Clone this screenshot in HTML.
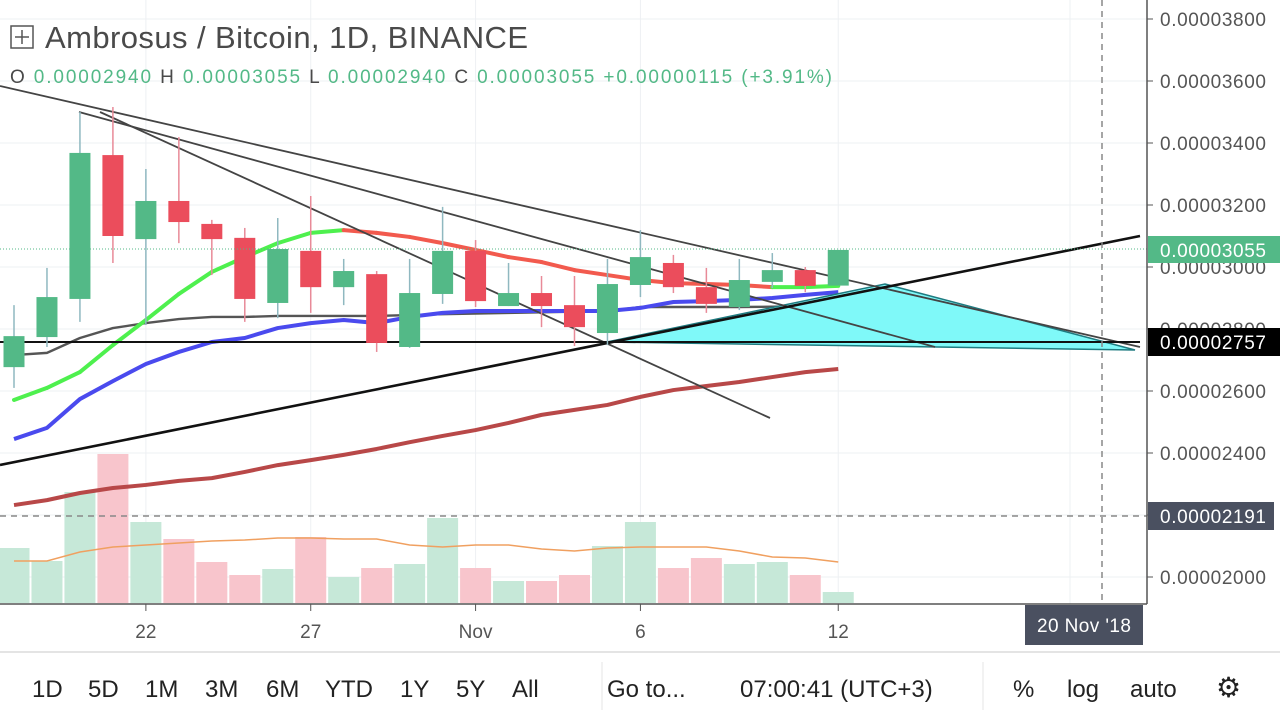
<!DOCTYPE html>
<html><head><meta charset="utf-8">
<style>
html,body{margin:0;padding:0;background:#fff;width:1280px;height:719px;overflow:hidden}
svg{display:block;font-family:"Liberation Sans",sans-serif}
</style></head>
<body>
<svg id="chart" width="1280" height="719" viewBox="0 0 1280 719" xmlns="http://www.w3.org/2000/svg">
<g id="grid"></g>
<g id="vol"></g>
<g id="mas"></g>
<g id="drawings">
  <polygon points="607,342 885,284 1135,350" fill="#7ff9f9" stroke="#1f7b80" stroke-width="1.5"/>
  <line x1="0" y1="86" x2="1140" y2="347" stroke="#444" stroke-width="1.8"/>
  <line x1="79" y1="112" x2="935" y2="347" stroke="#444" stroke-width="1.8"/>
  <line x1="100" y1="112" x2="770" y2="418" stroke="#444" stroke-width="1.8"/>
  <line x1="0" y1="342" x2="1140" y2="342" stroke="#111" stroke-width="2"/>
  <line x1="0" y1="465" x2="1140" y2="236" stroke="#111" stroke-width="2.6"/>
</g>
<g id="candles"></g>
<line x1="0" y1="249" x2="1147" y2="249" stroke="#53b987" stroke-width="1" stroke-dasharray="1,2"/>
<line x1="0" y1="516" x2="1147" y2="516" stroke="#888" stroke-width="1.5" stroke-dasharray="6,5"/>
<line x1="1102" y1="0" x2="1102" y2="604" stroke="#888" stroke-width="1.5" stroke-dasharray="6,5"/>
<line x1="1147" y1="0" x2="1147" y2="604" stroke="#555" stroke-width="1.5"/>
<line x1="0" y1="604" x2="1147" y2="604" stroke="#555" stroke-width="1.5"/>
<g id="yaxis"></g>
<g id="xaxis"></g>
<g><rect x="1148" y="236" width="132" height="27" fill="#53b987"/><text x="1160" y="257" font-size="19" fill="#fff" textLength="106">0.00003055</text></g>
<g><rect x="1148" y="328" width="132" height="28" fill="#000"/><text x="1160" y="349" font-size="19" fill="#fff" textLength="106">0.00002757</text></g>
<g><rect x="1148" y="502" width="126" height="28" fill="#4a5060"/><text x="1160" y="523" font-size="19" fill="#fff" textLength="106">0.00002191</text></g>
<g><rect x="1025" y="605" width="118" height="40" fill="#4a5060"/><text x="1037" y="632" font-size="19" fill="#fff" textLength="94">20 Nov '18</text></g>
<g>
  <rect x="11" y="26" width="22" height="22" fill="none" stroke="#555" stroke-width="1.5"/>
  <line x1="22" y1="30" x2="22" y2="44" stroke="#555" stroke-width="1.5"/><line x1="15" y1="37" x2="29" y2="37" stroke="#555" stroke-width="1.5"/>
  <text x="45" y="48" font-size="31" fill="#4a4a4a" textLength="483">Ambrosus / Bitcoin, 1D, BINANCE</text>
  <text x="10" y="83" font-size="19" fill="#4a4a4a" textLength="822"><tspan>O</tspan><tspan fill="#53b987"> 0.00002940 </tspan><tspan> H</tspan><tspan fill="#53b987"> 0.00003055 </tspan><tspan> L</tspan><tspan fill="#53b987"> 0.00002940 </tspan><tspan> C</tspan><tspan fill="#53b987"> 0.00003055 </tspan><tspan fill="#53b987">  +0.00000115 (+3.91%)</tspan></text>
</g>
<line x1="0" y1="652" x2="1280" y2="652" stroke="#e4e4e4" stroke-width="2"/>
<g id="toolbar" font-size="24" fill="#222">
  <text x="32" y="697">1D</text>
  <text x="88" y="697">5D</text>
  <text x="145" y="697">1M</text>
  <text x="205" y="697">3M</text>
  <text x="266" y="697">6M</text>
  <text x="325" y="697">YTD</text>
  <text x="400" y="697">1Y</text>
  <text x="456" y="697">5Y</text>
  <text x="512" y="697">All</text>
  <line x1="602" y1="662" x2="602" y2="710" stroke="#e6e6e6"/>
  <text x="607" y="697">Go to...</text>
  <text x="740" y="697">07:00:41 (UTC+3)</text>
  <line x1="983" y1="662" x2="983" y2="710" stroke="#e6e6e6"/>
  <text x="1013" y="697">%</text>
  <text x="1067" y="697">log</text>
  <text x="1130" y="697">auto</text>
  <text x="1216" y="697" font-size="28">⚙</text>
</g>
</svg>
<script>
const openP  = [2677,2774,2897,3361,3090,3213,3139,3094,2884,3052,2935,2977,2742,2913,3052,2874,2916,2877,2787,2942,3013,2935,2871,2952,2990,2940];
const highP  = [2877,2997,3500,3516,3316,3419,3152,3126,3158,3229,3026,2987,3026,3194,3087,3013,2971,2971,3026,3119,3039,2997,3026,3045,3000,3055];
const lowP   = [2610,2742,2823,3013,2813,3077,2974,2823,2835,2852,2877,2726,2739,2881,2871,2874,2806,2745,2748,2903,2916,2852,2861,2932,2919,2940];
const closeP = [2777,2903,3368,3100,3213,3145,3090,2897,3058,2935,2987,2755,2916,3052,2890,2916,2874,2806,2945,3032,2935,2881,2958,2990,2939,3055];
const emaFast = [2571,2610,2661,2748,2829,2913,2984,3032,3077,3110,3119,3110,3097,3077,3055,3032,3016,2990,2974,2958,2948,2945,2942,2935,2935,2939];
const maBlue  = [2445,2481,2574,2632,2687,2726,2758,2771,2803,2819,2829,2819,2839,2852,2858,2858,2858,2858,2858,2868,2887,2890,2894,2900,2910,2919];
const maGray  = [2716,2723,2771,2803,2819,2832,2839,2839,2842,2842,2842,2842,2845,2848,2850,2852,2854,2856,2858,2871,2871,2871,2871,2872,2873,2874];
const maSlow  = [2232,2248,2271,2287,2297,2310,2319,2339,2361,2377,2394,2413,2435,2455,2474,2497,2523,2539,2555,2581,2603,2616,2629,2645,2661,2671];
const volume  = [55,42,111,149,81,64,41,28,34,66,26,35,39,85,35,22,22,28,57,81,35,45,39,41,28,11];
const volMA   = [42,42,51,56,58,60,62,63,65,65,64,64,58,56,58,58,54,52,55,56,56,56,52,46,45,41];
const priceTicks = [3800,3600,3400,3200,3000,2800,2600,2400,2200,2000];
const priceTickLabels = ["0.00003800","0.00003600","0.00003400","0.00003200","0.00003000","0.00002800","0.00002600","0.00002400","0.00002200","0.00002000"];
const dateTickIdx = [4,9,14,19,25];
const dateTickLabels = ["22","27","Nov","6","12"];

const NS="http://www.w3.org/2000/svg";
const xOf = i => 14 + i*32.97;
const yOf = p => 19 + (3800-p)*0.31;
const yVol = v => 603 - v;
function mk(tag, attrs, parent){const e=document.createElementNS(NS,tag);for(const k in attrs)e.setAttribute(k,attrs[k]);parent.appendChild(e);return e;}
const grid=document.getElementById('grid'), vol=document.getElementById('vol'), mas=document.getElementById('mas'), cg=document.getElementById('candles'), ya=document.getElementById('yaxis'), xa=document.getElementById('xaxis');

priceTicks.forEach((p,k)=>{
  const y=yOf(p);
  const g=mk('line',{x1:0,x2:1147,y1:y,y2:y,stroke:'#eef0f3','stroke-width':1},grid);
  
  
  const t=mk('line',{x1:1147,x2:1153,y1:y,y2:y,stroke:'#555'},ya);
  
  
  const tx=mk('text',{x:1160,y:y+7,'font-size':19,fill:'#555',textLength:106},ya);
  
  
  tx.textContent=priceTickLabels[k];
});
dateTickIdx.forEach((i,k)=>{
  const x=xOf(i);
  const g=mk('line',{x1:x,x2:x,y1:0,y2:604,stroke:'#eef0f3','stroke-width':1},grid);
  
  
  const t=mk('line',{x1:x,x2:x,y1:604,y2:611,stroke:'#555'},xa);
  
  
  const tx=mk('text',{x:x,y:638,'font-size':19,fill:'#555','text-anchor':'middle'},xa);
  
  
  tx.textContent=dateTickLabels[k];
});
mk('line',{x1:1070,x2:1070,y1:0,y2:604,stroke:'#eef0f3'},grid);

volume.forEach((v,i)=>{
  const up=closeP[i]>=openP[i];
  const r=mk('rect',{x:xOf(i)-15.5,y:yVol(v),width:31,height:v,fill:up?'#c6e8d8':'#f8c5cc'},vol);
  
  
});
const vp=mk('polyline',{points:volMA.map((v,i)=>xOf(i)+','+yVol(v)).join(' '),fill:'none',stroke:'#f0a060','stroke-width':1.5},vol);



function line(arr,color,w,name){
  const p=mk('polyline',{points:arr.map((v,i)=>xOf(i)+','+yOf(v)).join(' '),fill:'none',stroke:color,'stroke-width':w,'stroke-linejoin':'round'},mas);
  
  
}
line(maSlow,'#b84848',4,'ma-slow');
line(maGray,'#555',2.4,'ma-gray');
line(maBlue,'#4a4aee',4,'ma-blue');
for(let i=1;i<emaFast.length;i++){
  const s=mk('line',{x1:xOf(i-1),y1:yOf(emaFast[i-1]),x2:xOf(i),y2:yOf(emaFast[i]),stroke:emaFast[i]>=emaFast[i-1]?'#4ef04e':'#f25a4e','stroke-width':4,'stroke-linecap':'round'},mas);
  
  
}

openP.forEach((o,i)=>{
  const c=closeP[i], up=c>=o, x=xOf(i);
  const w=mk('line',{x1:x,x2:x,y1:yOf(highP[i]),y2:yOf(lowP[i]),stroke:up?'#8fb8c0':'#e88a98','stroke-width':1.5},cg);
  
  
  const top=yOf(Math.max(o,c)), bot=yOf(Math.min(o,c));
  const b=mk('rect',{x:x-10.5,y:top,width:21,height:Math.max(1,bot-top),fill:up?'#53b987':'#eb4d5c'},cg);
  
  
});
</script>
</body></html>
